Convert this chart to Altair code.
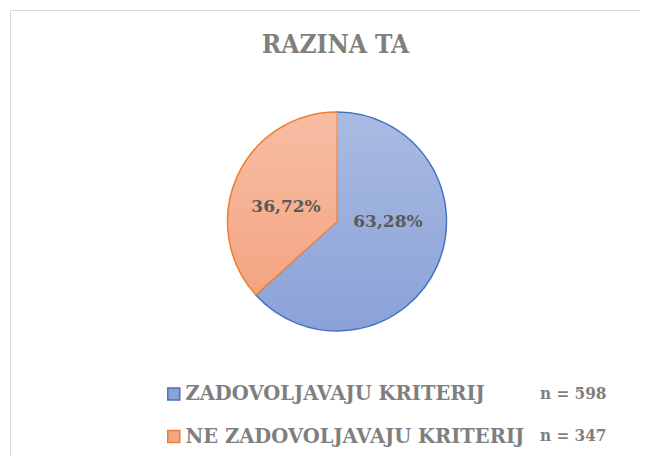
import altair as alt
import pandas as pd

# ---- data ----
categories = ["ZADOVOLJAVAJU KRITERIJ", "NE ZADOVOLJAVAJU KRITERIJ"]
percent = [63.28, 36.72]
counts = [598, 347]

fill_colors = ["#8aa2d8", "#f4a582"]
stroke_colors = ["#4472c4", "#ed7d31"]

labels = [f"{p:.2f}".replace(".", ",") + "%" for p in percent]
n_labels = [f"n = {n}" for n in counts]

df = pd.DataFrame({
    "idx": list(range(len(categories))),
    "category": categories,
    "pct": percent,
    "label": labels,
    "n_label": n_labels,
})

FONT = "DejaVu Serif"
FONT_COND = "DejaVu Serif Condensed"
GRAY = "#7f7f7f"
FRAME = "#d9d9d9"
R = 109.5
W, H = 630, 446
XO, YO = 12, -11.5
LEG_FS = 19.5
N_FS = 17
ROW_PITCH = 41


def legend_style(fs, font):
    return dict(
        orient="none", title=None, direction="vertical",
        labelFont=font, labelFontSize=fs, labelFontWeight="bold", labelColor=GRAY,
        labelLimit=500, rowPadding=ROW_PITCH - fs, padding=0,
    )


cat_legend = alt.Legend(
    legendX=154, legendY=384 - LEG_FS / 2, symbolType="square", symbolSize=144,
    symbolStrokeWidth=1.5, labelOffset=2, **legend_style(LEG_FS, FONT),
)

base = alt.Chart(df)
theta = alt.Theta("pct:Q", stack=True)
order = alt.Order("idx:Q")

# chart-area border (only its top and left edges fall inside the picture)
one = base.transform_aggregate(rows="count()")
frame_top = one.mark_rule(color=FRAME, strokeWidth=1).encode(
    x=alt.value(0), x2=alt.value(W), y=alt.value(0.5))
frame_left = one.mark_rule(color=FRAME, strokeWidth=1).encode(
    x=alt.value(0.5), y=alt.value(0), y2=alt.value(H))

fill_layer = base.mark_arc(radius=R, strokeWidth=1.5, xOffset=XO, yOffset=YO).encode(
    theta=theta,
    order=order,
    fill=alt.Fill("category:N", scale=alt.Scale(domain=categories, range=fill_colors), legend=cat_legend),
    stroke=alt.Stroke("category:N", scale=alt.Scale(domain=categories, range=stroke_colors), legend=cat_legend),
)

gradient = alt.Gradient(
    gradient="linear",
    stops=[
        alt.GradientStop(color="rgba(255,255,255,0.27)", offset=0),
        alt.GradientStop(color="rgba(255,255,255,0)", offset=1),
    ],
    x1=0, x2=0, y1=0, y2=1,
)

overlay = base.mark_arc(radius=R - 0.75, fill=gradient, strokeWidth=0, xOffset=XO, yOffset=YO).encode(
    theta=theta,
    order=order,
    opacity=alt.Opacity(
        "n_label:N",
        scale=alt.Scale(domain=n_labels, range=[1, 1]),
        legend=alt.Legend(legendX=513, legendY=384 - N_FS / 2, symbolSize=0, symbolOpacity=0,
                          labelOffset=0, **legend_style(N_FS, FONT_COND)),
    ),
)

label_shift = {categories[0]: (0.7, -22), categories[1]: (-0.7, 8)}
text_layers = []
for cat in categories:
    dx, dy = label_shift[cat]
    t = (
        base.transform_window(cum="sum(pct)", sort=[alt.SortField("idx")])
        .transform_calculate(mid="datum.cum - datum.pct / 2")
        .transform_filter(alt.datum.category == cat)
        .mark_text(radius=55, xOffset=XO, yOffset=YO, dx=dx, dy=dy, font=FONT,
                   fontSize=17, fontWeight="bold", color="#595959")
        .encode(theta=alt.Theta("mid:Q"), text="label:N")
    )
    text_layers.append(t)

chart = (
    alt.layer(frame_top, frame_left, fill_layer, overlay, *text_layers)
    .properties(
        width=W, height=H,
        autosize="none",
        padding={"left": 2, "top": 2, "right": 0, "bottom": 0},
        title=alt.TitleParams(
            "RAZINA TA", font=FONT_COND, fontSize=26, fontWeight="bold", color=GRAY,
            anchor="middle", frame="group", baseline="alphabetic", offset=0, dx=10.5, dy=69,
        ),
    )
    .configure_view(stroke=None)
)

chart.save("out.html", embed_options={"renderer": "svg", "actions": False})
